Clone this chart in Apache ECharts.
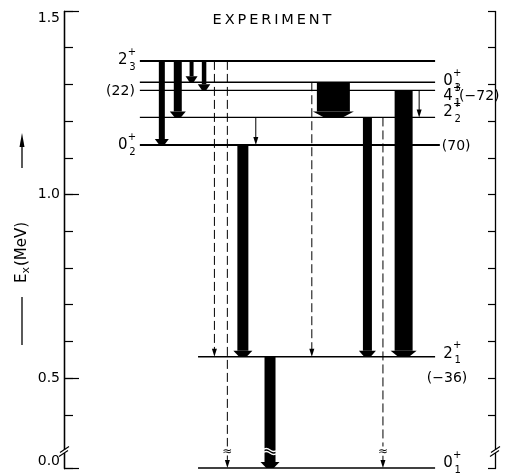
<!DOCTYPE html>
<html><head><meta charset="utf-8">
<script src="https://cdn.jsdelivr.net/npm/echarts@6/dist/echarts.min.js"></script>
<style>html,body{margin:0;padding:0;background:#fff}#c{width:506px;height:474px}</style>
</head><body><div id="c"></div>
<script>
// ---- data: levels (excitation energy in MeV) ----
const levelSpin   = ['0', '2', '0', '2', '4', '0', '2'];
const levelIndex  = ['1', '1', '2', '2', '1', '3', '3'];
const levelEnergy = [0.000, 0.558, 1.135, 1.210, 1.284, 1.306, 1.364];

// ---- data: annotations in parentheses ----
const annoText  = ['(22)', '(\u221272)', '(70)', '(\u221236)'];
const annoLevel = [4, 4, 2, 1];

// ---- data: transitions (from level -> to level) ----
const transFrom     = [6, 6, 6, 6, 6, 6, 3, 2, 1, 5, 5, 3, 3, 4, 4];
const transTo       = [2, 3, 5, 4, 1, 0, 2, 1, 0, 1, 3, 1, 0, 1, 3];
const transKind     = ['bar','bar','bar','bar','dashed','dashed','thin','bar','bar','dashed','bar','bar','dashed','bar','thin'];
const transStrength = [6, 8, 4, 4.5, 0, 0, 0, 11, 11, 0, 33, 9, 0, 18, 0];

// ---- axis ----
const yMin = 0, yMax = 1.5;
const yMajorTicks = [0.0, 0.5, 1.0, 1.5];
const yMinorTicks = [0.0, 0.4, 0.5, 0.6, 0.7, 0.8, 0.9, 1.0, 1.1, 1.2, 1.3, 1.4, 1.5];
const breakStart = 0.045, breakEnd = 0.3;

// ---- layout (horizontal placement in a 0..100 schematic axis, styles) ----
const levelX0 = [31.1, 31.1, 17.6, 17.6, 17.6, 17.6, 17.6];
const levelX1 = [86.1, 86.1, 87.2, 86.1, 86.1, 86.1, 86.1];
const levelLW = [1.4, 1.4, 2, 1.3, 1.3, 1.6, 2];
const levelLabelSide = ['R', 'R', 'L', 'R', 'R', 'R', 'L'];
const levelLabelDy   = [-5, -3, 0, -5, 6, -1, -1];
const annoAnchor = ['start', 'end', 'end', 'end'];
const annoDx = [-5, 24, 2, 12];
const annoDy = [1, 6, 1, 22];
const annoAlign = ['right', 'left', 'left', 'center'];
const transCol = [22.7, 26.4, 29.6, 32.5, 34.9, 37.9, 44.5, 41.5, 47.8, 57.5, 62.5, 70.4, 74.0, 78.8, 82.4];

const FONT = 'DejaVu Sans';
const chart = echarts.init(document.getElementById('c'), null, {renderer: 'canvas'});

const yBase = {
  type: 'value', min: yMin, max: yMax,
  breaks: [{start: breakStart, end: breakEnd, gap: 0}],
  breakArea: {show: false},
  splitLine: {show: false},
  axisLine: {show: true, lineStyle: {color: '#000', width: 1.3}}
};

const option = {
  animation: false,
  backgroundColor: '#fff',
  grid: {left: 64, right: 11, top: 11, bottom: 6},
  xAxis: {type: 'value', min: 0, max: 100, show: false},
  yAxis: [
    Object.assign({}, yBase, {
      position: 'left',
      axisTick: {show: true, inside: true, length: 9, customValues: yMinorTicks, lineStyle: {color: '#000', width: 1.2}},
      axisLabel: {show: false}
    }),
    Object.assign({}, yBase, {
      position: 'left',
      axisTick: {show: true, inside: true, length: 15, customValues: yMajorTicks, lineStyle: {color: '#000', width: 1.2}},
      axisLabel: {
        color: '#000', fontSize: 14, fontFamily: FONT, margin: 4, customValues: yMajorTicks,
        verticalAlignMaxLabel: 'top', verticalAlignMinLabel: 'bottom',
        formatter: v => v.toFixed(1)
      }
    }),
    Object.assign({}, yBase, {
      position: 'right',
      axisTick: {show: true, inside: true, length: 7, customValues: yMinorTicks, lineStyle: {color: '#000', width: 1.2}},
      axisLabel: {show: false}
    })
  ],
  graphic: [
    {type: 'text', x: 272, y: 20, style: {text: 'E\u2009X\u2009P\u2009E\u2009R\u2009I\u2009M\u2009E\u2009N\u2009T', align: 'center', verticalAlign: 'middle', fontSize: 14.5, fontFamily: FONT, fill: '#000'}},
    {type: 'line', shape: {x1: 22, y1: 168, x2: 22, y2: 142}, style: {stroke: '#000', lineWidth: 1.3}},
    {type: 'polygon', shape: {points: [[22, 133], [19.5, 147], [24.5, 147]]}, style: {fill: '#000'}},
    {type: 'line', shape: {x1: 22, y1: 297, x2: 22, y2: 345}, style: {stroke: '#000', lineWidth: 1.3}},
    {type: 'group', x: 22, y: 250, rotation: Math.PI / 2, children: [
      {type: 'text', style: {text: 'E', x: -33, y: 0, align: 'left', verticalAlign: 'middle', fontSize: 15, fontFamily: FONT, fill: '#000'}},
      {type: 'text', style: {text: 'x', x: -23.5, y: 4, align: 'left', verticalAlign: 'middle', fontSize: 11, fontFamily: FONT, fill: '#000'}},
      {type: 'text', style: {text: '(MeV)', x: -16, y: 0, align: 'left', verticalAlign: 'middle', fontSize: 15, fontFamily: FONT, fill: '#000'}}
    ]}
  ],
  series: [
    // levels
    {
      type: 'custom', clip: false, z: 2, yAxisIndex: 0,
      data: levelEnergy.map((e, i) => [levelX0[i], levelX1[i], e]),
      encode: {x: [0, 1], y: 2},
      renderItem: (params, api) => {
        const a = api.coord([api.value(0), api.value(2)]);
        const b = api.coord([api.value(1), api.value(2)]);
        return {type: 'line', shape: {x1: a[0], y1: a[1], x2: b[0], y2: b[1]},
          style: {stroke: '#000', lineWidth: levelLW[params.dataIndex]}};
      }
    },
    // level spin labels
    {
      type: 'custom', clip: false, z: 3, yAxisIndex: 0,
      data: levelEnergy.map((e, i) => [levelLabelSide[i] === 'L' ? levelX0[i] : levelX1[i], e]),
      encode: {x: 0, y: 1},
      renderItem: (params, api) => {
        const i = params.dataIndex;
        const p = api.coord([api.value(0), api.value(1)]);
        const cx = levelLabelSide[i] === 'L' ? p[0] - 17 : p[0] + 13;
        const cy = p[1] + levelLabelDy[i];
        const st = (t, x, y, fs) => ({type: 'text', style: {text: t, x: x, y: y, align: 'center', verticalAlign: 'middle', fontSize: fs, fontFamily: FONT, fill: '#000'}});
        return {type: 'group', children: [
          st(levelSpin[i], cx, cy, 15),
          st('+', cx + 9, cy - 8, 10),
          st(levelIndex[i], cx + 9.5, cy + 7, 10)
        ]};
      }
    },
    // annotations
    {
      type: 'custom', clip: false, z: 3, yAxisIndex: 0,
      data: annoLevel.map((l, i) => [annoAnchor[i] === 'start' ? levelX0[l] : levelX1[l], levelEnergy[l]]),
      encode: {x: 0, y: 1},
      renderItem: (params, api) => {
        const i = params.dataIndex;
        const p = api.coord([api.value(0), api.value(1)]);
        return {type: 'text', style: {text: annoText[i], x: p[0] + annoDx[i], y: p[1] + annoDy[i], align: annoAlign[i], verticalAlign: 'middle', fontSize: 14, fontFamily: FONT, fill: '#000'}};
      }
    },
    // transitions
    {
      type: 'custom', clip: false, z: 4, yAxisIndex: 0,
      data: transFrom.map((f, i) => [transCol[i], levelEnergy[f], levelEnergy[transTo[i]], transStrength[i]]),
      encode: {x: 0, y: [1, 2]},
      renderItem: (params, api) => {
        const i = params.dataIndex;
        const p0 = api.coord([api.value(0), api.value(1)]);
        const p1 = api.coord([api.value(0), api.value(2)]);
        const x = p0[0], y0 = p0[1], y1 = p1[1];
        const kind = transKind[i];
        const ch = [];
        if (kind === 'bar') {
          const w = api.value(3);
          const hh = 6;
          ch.push({type: 'rect', shape: {x: x - w / 2, y: y0, width: w, height: y1 - y0 - hh}, style: {fill: '#000'}});
          ch.push({type: 'polygon', shape: {points: [[x - w / 2 - 4, y1 - hh], [x + w / 2 + 4, y1 - hh], [x + w * 0.25 + 1, y1], [x - w * 0.25 - 1, y1]]}, style: {fill: '#000'}});
        } else {
          ch.push({type: 'line', shape: {x1: x, y1: y0, x2: x, y2: y1 - 6},
            style: {stroke: '#000', lineWidth: 1, lineDash: kind === 'dashed' ? [9, 4] : null}});
          ch.push({type: 'polygon', shape: {points: [[x - 2.5, y1 - 8], [x + 2.5, y1 - 8], [x, y1]]}, style: {fill: '#000'}});
        }
        if (transTo[i] === 0) {
          const yb = api.coord([api.value(0), breakEnd])[1];
          if (kind === 'bar') {
            const w = api.value(3);
            const xa = x - w / 2 - 2, xb = x + w / 2 + 2, xm = (xa + xb) / 2;
            for (const d of [-1.5, 1.5]) {
              ch.push({type: 'path', shape: {pathData: 'M' + xa + ' ' + (yb + d) + ' Q' + ((xa + xm) / 2) + ' ' + (yb + d - 3) + ' ' + xm + ' ' + (yb + d) + ' T' + xb + ' ' + (yb + d)},
                style: {stroke: '#fff', fill: null, lineWidth: 1.4}});
            }
          } else {
            ch.push({type: 'rect', shape: {x: x - 3, y: yb - 5, width: 6, height: 9}, style: {fill: '#fff'}});
            ch.push({type: 'text', style: {text: '\u2248', x: x, y: yb, align: 'center', verticalAlign: 'middle', fontSize: 12, fontFamily: FONT, fill: '#000'}});
          }
        }
        return {type: 'group', children: ch};
      }
    },
    // axis break marks
    {
      type: 'custom', clip: false, z: 5, yAxisIndex: 0,
      data: [[0, breakEnd], [100, breakEnd]],
      encode: {x: 0, y: 1},
      renderItem: (params, api) => {
        const p = api.coord([api.value(0), api.value(1)]);
        const x = p[0], y = p[1];
        return {type: 'group', children: [
          {type: 'rect', shape: {x: x - 2, y: y - 1.5, width: 4, height: 3}, style: {fill: '#fff'}},
          {type: 'line', shape: {x1: x - 4, y1: y + 1, x2: x + 5, y2: y - 5}, style: {stroke: '#000', lineWidth: 1.1}},
          {type: 'line', shape: {x1: x - 5, y1: y + 5, x2: x + 4, y2: y - 1}, style: {stroke: '#000', lineWidth: 1.1}}
        ]};
      }
    }
  ]
};
chart.setOption(option);
</script>
</body></html>
